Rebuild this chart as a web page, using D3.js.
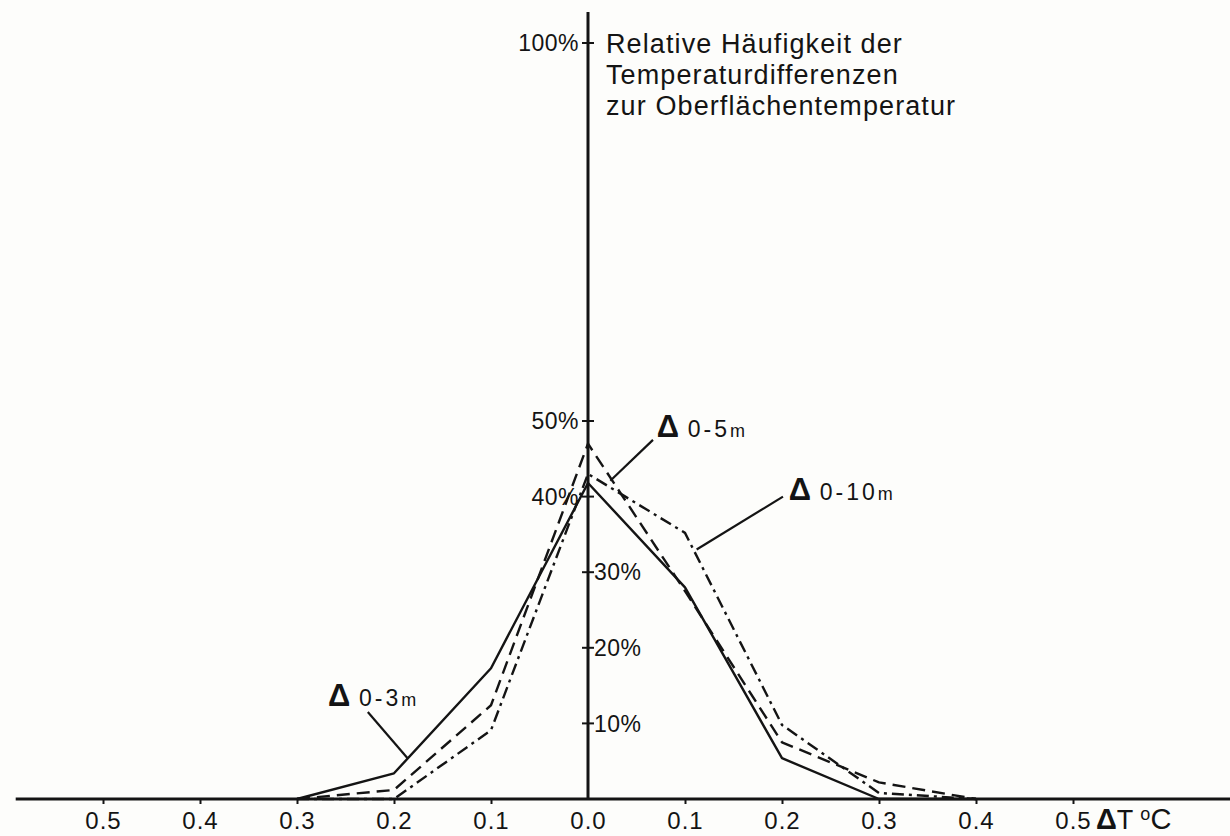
<!DOCTYPE html>
<html>
<head>
<meta charset="utf-8">
<script src="https://cdn.jsdelivr.net/npm/d3@7"></script>
<style>
  body { margin: 0; background: #fdfdfb; }
  svg { display: block; font-family: "Liberation Sans", Arial, Helvetica, sans-serif; }
</style>
</head>
<body>
<div id="chart"></div>
<script>
// temperature difference classes (°C), relative frequency in %
const deltaT = [-0.3, -0.2, -0.1, 0.0, 0.1, 0.2, 0.3, 0.4];
const depth0_3 = [0, 3.4, 17.3, 41.8, 28.0, 5.4, 0, 0];
const depth0_5 = [0, 1.2, 12.4, 47.0, 27.5, 7.5, 2.2, 0];
const depth0_10 = [0, 0, 9.1, 43.0, 35.2, 9.8, 0.8, 0];
const seriesNames = ["0-3m", "0-5m", "0-10m"];

const xTicks = [-0.5, -0.4, -0.3, -0.2, -0.1, 0.0, 0.1, 0.2, 0.3, 0.4, 0.5];
const yTicksLeft = [100, 50, 40];
const yTicksRight = [30, 20, 10];
const titleLines = ["Relative Häufigkeit der", "Temperaturdifferenzen", "zur Oberflächentemperatur"];

const width = 1230, height = 836;

const x = d3.scaleLinear().domain([-0.5, 0.5]).range([103, 1073]);
const y = d3.scaleLinear().domain([0, 100]).range([799, 43]);

const svg = d3.select("#chart")
    .append("svg")
        .attr("width", width)
        .attr("height", height);

const ink = "#141414";

// horizontal axis
svg.append("line")
    .attr("x1", x(-0.59)).attr("x2", x(0.68))
    .attr("y1", y(0)).attr("y2", y(0))
    .attr("stroke", ink).attr("stroke-width", 3);

const xAxis = svg.append("g")
    .attr("transform", `translate(0, ${y(0)})`)
    .call(d3.axisBottom(x)
        .tickValues(xTicks)
        .tickSizeInner(5)
        .tickSizeOuter(0)
        .tickPadding(8)
        .tickFormat(d => Math.abs(d).toFixed(1)));
xAxis.attr("font-size", 24).attr("font-family", null);
xAxis.select(".domain").remove();
xAxis.selectAll(".tick line").attr("stroke", ink).attr("stroke-width", 2);
xAxis.selectAll(".tick text")
    .attr("fill", ink)
    .attr("font-size", 24)
    .attr("letter-spacing", 1);
// no tick mark at 0.0, the vertical axis sits there
xAxis.selectAll(".tick").filter(d => d === 0).select("line").remove();

// x axis label
const xl = svg.append("text")
    .attr("x", x(0.5) + 23)
    .attr("y", y(0) + 30)
    .attr("fill", ink)
    .attr("font-size", 27);
xl.append("tspan").attr("font-weight", "bold").attr("font-size", 29).text("Δ");
xl.append("tspan").text("T ");
xl.append("tspan").attr("dy", -9).attr("font-size", 18).text("o");
xl.append("tspan").attr("dy", 9).attr("font-size", 29).text("C");

// vertical axis
svg.append("line")
    .attr("x1", x(0)).attr("x2", x(0))
    .attr("y1", y(0)).attr("y2", y(104.1))
    .attr("stroke", ink).attr("stroke-width", 3);

const yTicks = yTicksLeft.concat(yTicksRight);
svg.append("g").selectAll("line")
    .data(yTicks)
    .join("line")
        .attr("x1", x(0) - 6).attr("x2", x(0) + 6)
        .attr("y1", d => y(d)).attr("y2", d => y(d))
        .attr("stroke", ink).attr("stroke-width", 2);

svg.append("g").selectAll("text")
    .data(yTicksLeft)
    .join("text")
        .attr("x", x(0) - 9)
        .attr("y", d => y(d))
        .attr("dy", "0.36em")
        .attr("text-anchor", "end")
        .attr("fill", ink)
        .attr("font-size", 23)
        .attr("letter-spacing", 0.5)
        .text(d => d + "%");

svg.append("g").selectAll("text")
    .data(yTicksRight)
    .join("text")
        .attr("x", x(0) + 6)
        .attr("y", d => y(d))
        .attr("dy", "0.36em")
        .attr("fill", ink)
        .attr("font-size", 23)
        .attr("letter-spacing", 0.5)
        .text(d => d + "%");

// title next to the axis
svg.append("g").selectAll("text")
    .data(titleLines)
    .join("text")
        .attr("x", x(0) + 18)
        .attr("y", (d, i) => 53 + i * 31)
        .attr("fill", ink)
        .attr("font-size", 27)
        .attr("letter-spacing", 1.1)
        .text(d => d);

// series lines
const series = [
    {name: seriesNames[0], values: depth0_3, dash: null},
    {name: seriesNames[1], values: depth0_5, dash: "13,7"},
    {name: seriesNames[2], values: depth0_10, dash: "12,5,3,5"}
];

const line = d3.line()
    .x((d, i) => x(deltaT[i]))
    .y(d => y(d));

svg.append("g").selectAll("path")
    .data(series)
    .join("path")
        .attr("fill", "none")
        .attr("stroke", ink)
        .attr("stroke-width", 2.4)
        .attr("stroke-linejoin", "round")
        .attr("stroke-dasharray", d => d.dash)
        .attr("d", d => line(d.values));

// labels with leader lines (positions in data units)
const labelSpecs = [
    {name: seriesNames[0], tx: -0.268, ty: 12.3, from: [-0.227, 11.5], to: [-0.186, 5.4]},
    {name: seriesNames[1], tx: 0.071, ty: 47.9, from: [0.067, 47.5], to: [0.023, 42.1]},
    {name: seriesNames[2], tx: 0.207, ty: 39.6, from: [0.201, 40.0], to: [0.112, 33.0]}
];

labelSpecs.forEach(s => {
    svg.append("line")
        .attr("x1", x(s.from[0])).attr("y1", y(s.from[1]))
        .attr("x2", x(s.to[0])).attr("y2", y(s.to[1]))
        .attr("stroke", ink).attr("stroke-width", 2.2);
    const t = svg.append("text")
        .attr("x", x(s.tx))
        .attr("y", y(s.ty))
        .attr("fill", ink);
    t.append("tspan").attr("font-weight", "bold").attr("font-size", 31).text("Δ ");
    t.append("tspan").attr("font-size", 23).attr("letter-spacing", 3).text(s.name.slice(0, -1));
    t.append("tspan").attr("font-size", 18).text(s.name.slice(-1));
});
</script>
</body>
</html>
